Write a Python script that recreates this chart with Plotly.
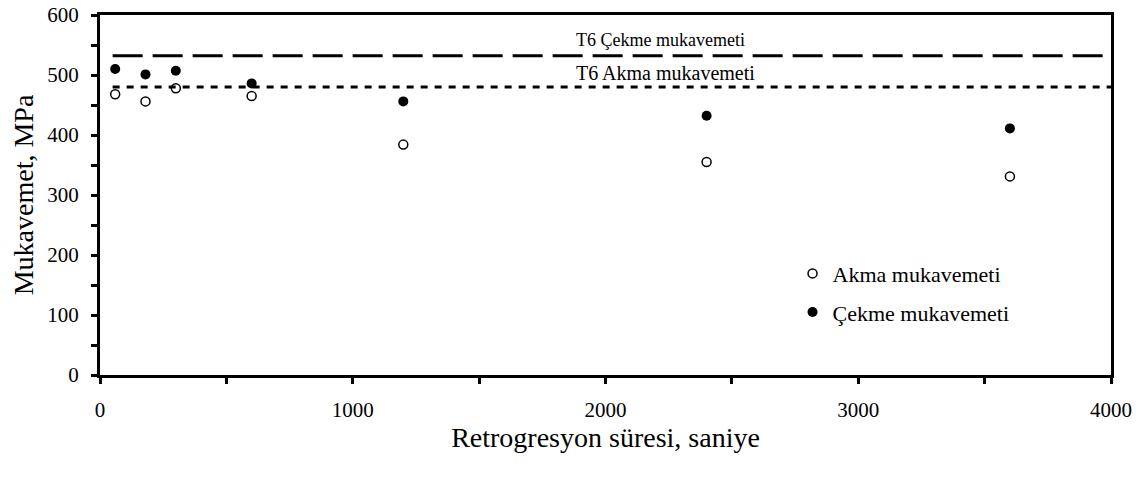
import plotly.graph_objects as go

# retrogression time (s) and measured strengths (MPa)
sure = [60, 180, 300, 600, 1200, 2400, 3600]
akma = [468, 456, 478, 465, 384, 355, 331]
cekme = [510, 501, 507, 486, 456, 432, 411]

# T6 reference levels
t6_x = [50, 4000]
t6_cekme = 532
t6_akma = 480

FONT = 'Liberation Serif, Times New Roman, serif'

fig = go.Figure()

fig.add_trace(go.Scatter(x=t6_x, y=[t6_cekme, t6_cekme], mode='lines',
                         line={'color': 'black', 'width': 3, 'dash': '30px,10px'},
                         showlegend=False, hoverinfo='skip'))
fig.add_trace(go.Scatter(x=t6_x, y=[t6_akma, t6_akma], mode='lines',
                         line={'color': 'black', 'width': 3, 'dash': '7px,7px'},
                         showlegend=False, hoverinfo='skip'))

fig.add_trace(go.Scatter(x=sure, y=akma, mode='markers', name='Akma mukavemeti',
                         legendgroup='akma',
                         marker={'symbol': 'circle-open', 'color': 'black', 'size': 9,
                                 'line': {'width': 1.5, 'color': 'black'}}))
fig.add_trace(go.Scatter(x=sure, y=cekme, mode='markers', name='Çekme mukavemeti',
                         legendgroup='cekme',
                         marker={'symbol': 'circle', 'color': 'black', 'size': 10}))

fig.add_annotation(x=2217, y=t6_cekme, text='T6 Çekme mukavemeti', showarrow=False,
                   yshift=16, font={'size': 18, 'color': 'black'})
fig.add_annotation(x=2237, y=t6_akma, text='T6 Akma mukavemeti', showarrow=False,
                   yshift=14, font={'size': 20, 'color': 'black'})

fig.update_xaxes(
    range=[0, 4000], dtick=1000, tickformat='d', automargin=True,
    ticklabeloverflow='allow',
    showgrid=False, zeroline=False,
    showline=True, linecolor='black', linewidth=3, mirror=True,
    ticks='outside', ticklen=6, tickwidth=3, tickcolor='black',
    minor={'dtick': 500, 'ticks': 'outside', 'ticklen': 6, 'tickwidth': 3, 'tickcolor': 'black'},
    tickfont={'size': 21}, ticklabelstandoff=8,
    title={'text': 'Retrogresyon süresi, saniye', 'font': {'size': 28}, 'standoff': 2},
)
fig.update_yaxes(
    range=[0, 600], dtick=100, automargin=False,
    ticklabeloverflow='allow',
    showgrid=False, zeroline=False,
    showline=True, linecolor='black', linewidth=3, mirror=True,
    ticks='outside', ticklen=6, tickwidth=3, tickcolor='black',
    minor={'dtick': 50, 'ticks': 'outside', 'ticklen': 6, 'tickwidth': 3, 'tickcolor': 'black'},
    tickfont={'size': 21}, ticklabelstandoff=8,
    title={'text': 'Mukavemet, MPa', 'font': {'size': 28}, 'standoff': 6},
)

fig.update_layout(
    width=1144, height=477,
    margin={'l': 100, 'r': 30, 't': 13, 'b': 102},
    plot_bgcolor='white', paper_bgcolor='white',
    font={'family': FONT, 'color': 'black'},
    legend={'x': 0.685, 'y': 0.34, 'xanchor': 'left', 'yanchor': 'top',
            'font': {'size': 22}, 'bgcolor': 'rgba(0,0,0,0)',
            'traceorder': 'grouped', 'tracegroupgap': 7, 'itemwidth': 30},
)

fig.write_html('out.html', config={'displayModeBar': False},
               post_script="document.body.style.margin='0';")
